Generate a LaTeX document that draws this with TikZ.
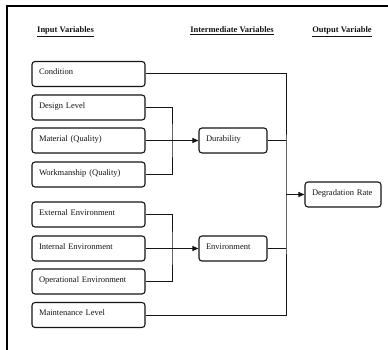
\documentclass[tikz,border=0pt]{standalone}
\usepackage{fontspec}
\setmainfont{Liberation Serif}
\usepackage{xcolor}
\definecolor{degdark}{RGB}{20,20,20}
\usetikzlibrary{arrows.meta}
\tikzset{
  box/.style={draw=degdark,line width=1.1pt,rounded corners=3pt,align=left,inner xsep=7pt,
    minimum height=25pt,text depth=4pt,font=\fontsize{8.5}{10}\selectfont,text=degdark},
  head/.style={font=\fontsize{8.5}{10}\selectfont\bfseries,text=degdark,inner sep=0pt},
  arr/.style={-{Triangle[length=6pt,width=5pt]},line width=1pt,draw=degdark},
  line/.style={line width=1pt,draw=degdark},
}

\begin{document}
\begin{tikzpicture}[x=1pt,y=-1pt]
    \useasboundingbox (0,0) rectangle (388,350);
    \draw[line width=1.5pt] (7,351) -- (7,6) -- (390,6);
    % column headings
    \node[head,anchor=base west] (hin) at (37,33) {\underline{Input Variables}};
    \node[head,anchor=base] (hmid) at (232,33) {\underline{Intermediate Variables}};
    \node[head,anchor=base] (hout) at (342,33) {\underline{Output Variable}};
    % input boxes
    \foreach \n/\y/\t in {cond/74/Condition,design/107.5/Design Level,mat/140.5/Material (Quality),
      work/174.5/Workmanship (Quality),ext/214.5/External Environment,int/248.5/Internal Environment,
      oper/281.5/Operational Environment,maint/315/Maintenance Level}{
      \node[box,text width=99pt] (\n) at (88.5,\y) {\t};}
    \node[box,text width=54pt] (dur) at (233,140.5) {Durability};
    \node[box,text width=54pt] (env) at (233,248.5) {Environment};
    \node[box,text width=62pt] (rate) at (343,194.5) {Degradation Rate};
    \coordinate (jd) at (172,140.5);
    \coordinate (je) at (172,248.5);
    \coordinate (jo) at (286,194.5);
    \draw[line] (design.east) -| (jd) |- (work.east);
    \draw[arr] (mat.east) -- (dur.west);
    \draw[line] (ext.east) -| (je) |- (oper.east);
    \draw[arr] (int.east) -- (env.west);
    \draw[line] (cond.east) -| (jo) |- (maint.east);
    \draw[line] (dur.east) -- (dur.east -| jo);
    \draw[line] (env.east) -- (env.east -| jo);
    \draw[arr] (jo) -- (rate.west);
  \end{tikzpicture}
\end{document}
